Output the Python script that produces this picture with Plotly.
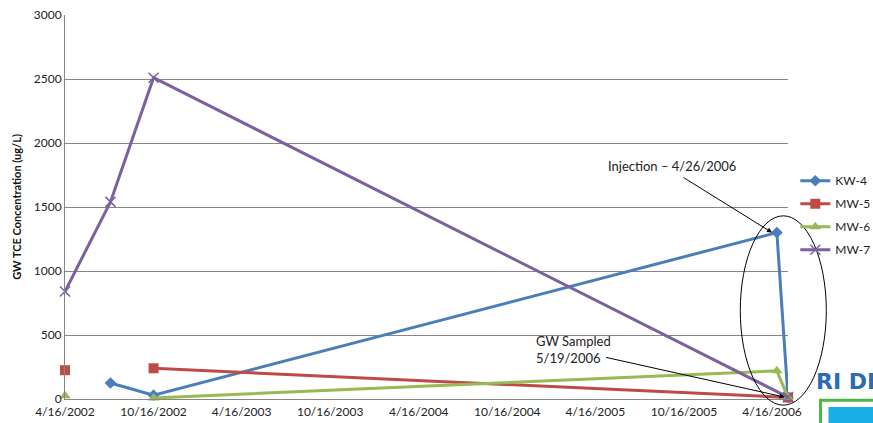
import plotly.graph_objects as go

# Sampling dates and TCE concentrations (ug/L) per well
kw4_dates = ["2002-07-19", "2002-10-16", "2006-04-26", "2006-05-19"]
kw4_vals = [125, 30, 1300, 10]

mw5_dates = ["2002-04-16", "2002-07-19", "2002-10-16", "2006-05-19"]
mw5_vals = [225, None, 240, 12]

mw6_dates = ["2002-04-16", "2002-07-19", "2002-10-16", "2006-04-26", "2006-05-19"]
mw6_vals = [25, None, 8, 220, 12]

mw7_dates = ["2002-04-16", "2002-07-19", "2002-10-16", "2006-05-19"]
mw7_vals = [840, 1540, 2510, 15]

tick_dates = ["2002-04-16", "2002-10-16", "2003-04-16", "2003-10-16", "2004-04-16",
              "2004-10-16", "2005-04-16", "2005-10-16", "2006-04-16"]
tick_labels = ["4/16/2002", "10/16/2002", "4/16/2003", "10/16/2003", "4/16/2004",
               "10/16/2004", "4/16/2005", "10/16/2005", "4/16/2006"]

FONT = "Lato"

series = [
    ("KW-4", kw4_dates, kw4_vals, "#4A7EBB", dict(symbol="diamond", size=9)),
    ("MW-5", mw5_dates, mw5_vals, "#BE4B48", dict(symbol="square", size=10)),
    ("MW-6", mw6_dates, mw6_vals, "#98B954", dict(symbol="triangle-up", size=10)),
    ("MW-7", mw7_dates, mw7_vals, "#7D60A0",
     dict(symbol="x-thin", size=10, line=dict(width=1.5, color="#7D60A0"))),
]

fig = go.Figure()
for name, xs, ys, color, marker in series:
    fig.add_trace(go.Scatter(
        x=xs, y=ys, name=name, mode="lines+markers",
        line=dict(color=color, width=3),
        marker=dict(color=color, **marker),
        connectgaps=False, cliponaxis=False,
        legendgroup=name,
    ))

fig.update_layout(
    width=873, height=423,
    margin=dict(l=65, r=85, t=15, b=24, autoexpand=False),
    paper_bgcolor="white", plot_bgcolor="white",
    font=dict(family=FONT, size=12, color="#222222"),
    showlegend=True,
    legend=dict(xref="container", yref="container", x=0.911, y=0.607,
                xanchor="left", yanchor="top",
                font=dict(family=FONT, size=12, color="#222222"),
                tracegroupgap=4, itemwidth=30, bgcolor="rgba(0,0,0,0)"),
    xaxis=dict(
        type="date", range=["2002-04-16", "2006-05-19"], automargin=False,
        tickmode="array", tickvals=tick_dates, ticktext=tick_labels,
        showgrid=False, showline=True, linecolor="#868686", linewidth=1,
        ticks="", tickfont=dict(size=12), zeroline=False, ticklabelstandoff=2,
    ),
    yaxis=dict(
        range=[0, 3000], dtick=500, showgrid=True, gridcolor="#868686",
        gridwidth=1, showline=True, linecolor="#868686", linewidth=1,
        ticks="", tickfont=dict(size=12), zeroline=False, automargin=False,
    ),
)

# Axis title
fig.add_annotation(text="<b>GW TCE Concentration (ug/L)</b>", xref="paper", yref="paper",
                   x=-0.068, y=0.5, xanchor="center", yanchor="middle",
                   textangle=-90, showarrow=False,
                   font=dict(family=FONT, size=11, color="#111111"))

# Callout texts
fig.add_annotation(text="Injection \u2013 4/26/2006", xref="paper", yref="paper",
                   x=0.839, y=0.607, xanchor="center", yanchor="middle", showarrow=False,
                   font=dict(family=FONT, size=13, color="#222222"))
fig.add_annotation(text="GW Sampled<br>5/19/2006", xref="paper", yref="paper",
                   x=0.649, y=0.128, xanchor="left", yanchor="middle", align="left",
                   showarrow=False, font=dict(family=FONT, size=13, color="#222222"))

# Callout arrows pointing at the injection peak and the post-injection sample
fig.add_annotation(x="2006-04-16", y=1300, text="", showarrow=True,
                   ax=-90, ay=-56, arrowhead=2, arrowsize=1, arrowwidth=1,
                   arrowcolor="black")
fig.add_annotation(x="2006-05-12", y=15, text="", showarrow=True,
                   ax=-180, ay=-40, arrowhead=2, arrowsize=1, arrowwidth=1,
                   arrowcolor="black")

# Ellipse around the injection/sampling events
fig.add_shape(type="circle", xref="paper", yref="paper",
              x0=0.934, x1=1.053, y0=-0.016, y1=0.477,
              line=dict(color="black", width=1))

# Partial agency logo at the bottom-right corner
fig.add_annotation(text="<b>RI DE</b>", xref="paper", yref="paper",
                   x=1.036, y=0.045, xanchor="left", yanchor="middle", showarrow=False,
                   font=dict(family="DejaVu Sans", size=22, color="#2B6CB3"))
fig.add_shape(type="rect", xref="paper", yref="paper",
              x0=1.045, x1=1.2, y0=-0.003, y1=-0.07,
              line=dict(color="#4DB848", width=3), fillcolor="white")
fig.add_shape(type="rect", xref="paper", yref="paper",
              x0=1.056, x1=1.2, y0=-0.021, y1=-0.07,
              line=dict(width=0), fillcolor="#1BAEE6")

fig.write_html("out.html")
